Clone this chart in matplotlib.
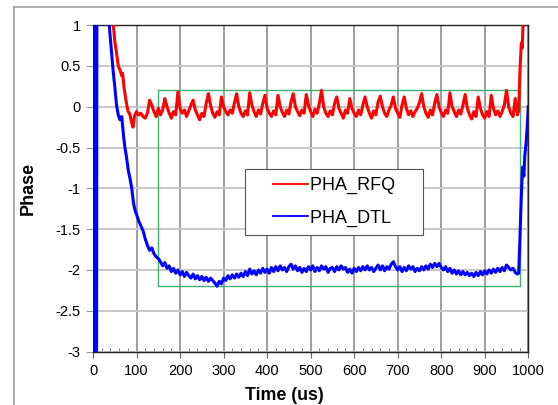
import numpy as np
import matplotlib
matplotlib.use("Agg")
import matplotlib.pyplot as plt
from matplotlib.lines import Line2D
from matplotlib.legend_handler import HandlerLine2D
from matplotlib.ticker import MultipleLocator, FormatStrFormatter

plt.rcParams['font.family'] = ['Liberation Sans', 'DejaVu Sans']
plt.rcParams['axes.unicode_minus'] = False

# PHA_RFQ
rfq_t_start = [0, 44, 47, 50, 54, 58, 62, 66, 68, 71, 75, 77, 80, 85, 88, 92, 95]
rfq_v_start = [1.5, 1.2, 0.98, 0.8, 0.66, 0.5, 0.45, 0.38, 0.41, 0.25, 0.1, 0.04,
               -0.05, -0.1, -0.18, -0.25, -0.12]
rfq_t_mid = list(range(100, 980, 5))
rfq_v_mid = [
    -0.06, -0.10, -0.08, -0.12, -0.14, -0.08, 0.08, 0.02, -0.06, -0.12,
    -0.02, -0.10, -0.04, 0.10, 0.00, -0.08, -0.14, -0.06, -0.10, 0.18,
    -0.02, -0.08, -0.04, -0.12, -0.05, 0.02, 0.08, -0.04, -0.10, -0.16,
    -0.08, -0.12, 0.04, 0.16, 0.02, -0.08, -0.13, -0.06, -0.10, 0.12,
    0.00, -0.06, -0.10, -0.04, -0.08, 0.05, 0.16, 0.00, -0.08, -0.12,
    -0.05, -0.10, 0.17, 0.02, -0.06, -0.12, -0.04, -0.09, 0.04, 0.14,
    -0.02, -0.08, -0.12, -0.05, -0.10, 0.14, 0.00, -0.07, -0.12, -0.04,
    -0.09, 0.06, 0.16, 0.00, -0.06, -0.11, -0.04, -0.08, 0.15, 0.02,
    -0.06, -0.12, -0.03, -0.08, 0.04, 0.20, 0.00, -0.08, -0.12, -0.05,
    -0.10, 0.04, 0.12, -0.02, -0.08, -0.14, -0.04, -0.08, 0.10, -0.02,
    -0.08, -0.12, -0.04, -0.10, 0.02, 0.12, 0.00, -0.08, -0.14, -0.05,
    -0.10, 0.06, 0.13, 0.00, -0.08, -0.12, -0.04, 0.02, 0.12, -0.02,
    -0.08, -0.13, 0.02, 0.12, -0.02, -0.10, -0.05, -0.12, -0.06, -0.02,
    0.05, 0.16, 0.00, -0.08, -0.13, -0.04, -0.10, 0.04, 0.15, 0.00,
    -0.07, -0.12, -0.04, -0.08, 0.17, 0.00, -0.06, -0.12, -0.04, -0.09,
    0.02, 0.15, -0.02, -0.10, -0.15, -0.06, -0.12, 0.12, -0.02, -0.10,
    -0.14, -0.06, -0.12, 0.14, -0.02, -0.10, -0.05, -0.12, -0.06, 0.02,
    0.20, 0.00, -0.08, -0.12, 0.10, -0.10,
]
rfq_t_end = [978, 981, 984, 986, 988, 992, 1000]
rfq_v_end = [-0.05, 0.45, 0.78, 0.72, 1.0, 1.3, 1.3]

# PHA_DTL
dtl_t_start = [0, 1, 2, 3, 4, 5, 6, 7, 8, 9, 10, 35, 38, 42, 46, 50, 54, 58, 62, 66,
               70, 73, 77, 81, 85, 89, 93, 97, 100, 105, 110, 115, 120, 125, 130,
               135, 140, 145]
dtl_v_start = [-4, 2, -4, 2, -4, 2, -4, 2, -4, 2, 2, 1.2, 0.95, 0.7, 0.45, 0.25,
               0.02, -0.1, -0.16, -0.12, -0.35, -0.49, -0.62, -0.78, -0.88, -1.0,
               -1.18, -1.28, -1.32, -1.4, -1.46, -1.52, -1.62, -1.7, -1.76, -1.73,
               -1.8, -1.84]
dtl_t_mid = list(range(150, 980, 5))
dtl_v_mid = [
    -1.86, -1.90, -1.95, -1.91, -1.98, -1.95, -2.02, -1.98, -2.04, -2.00,
    -2.06, -2.02, -2.08, -2.03, -2.07, -2.10, -2.05, -2.11, -2.07, -2.12,
    -2.08, -2.13, -2.09, -2.14, -2.10, -2.13, -2.16, -2.20, -2.14, -2.17,
    -2.10, -2.13, -2.07, -2.11, -2.06, -2.10, -2.05, -2.09, -2.04, -2.08,
    -2.02, -2.07, -1.99, -2.05, -2.01, -2.06, -2.00, -2.04, -1.98, -2.03,
    -1.99, -2.04, -1.97, -2.02, -1.96, -2.01, -1.95, -2.00, -1.97, -2.02,
    -1.96, -1.93, -1.99, -1.95, -2.01, -1.97, -2.03, -1.98, -2.02, -1.96,
    -2.00, -1.95, -2.02, -1.97, -2.01, -1.95, -1.99, -1.96, -2.03, -1.98,
    -1.97, -2.02, -1.96, -2.00, -1.95, -1.99, -1.97, -2.03, -1.99, -2.04,
    -1.98, -2.02, -1.97, -2.01, -1.96, -2.00, -1.95, -2.00, -1.97, -2.02,
    -1.98, -1.94, -2.00, -1.95, -2.01, -1.96, -1.99, -1.93, -1.90, -1.96,
    -2.00, -1.96, -2.02, -1.97, -2.01, -1.95, -1.99, -1.96, -2.02, -1.98,
    -2.01, -1.96, -2.00, -1.95, -1.99, -1.93, -1.97, -1.92, -1.96, -1.92,
    -1.97, -2.00, -1.96, -2.02, -1.98, -2.04, -2.00, -2.05, -2.01, -2.06,
    -2.02, -2.06, -2.03, -2.07, -2.04, -2.08, -2.03, -2.07, -2.02, -2.06,
    -2.01, -2.05, -2.00, -2.04, -1.99, -2.03, -1.98, -2.02, -1.97, -2.01,
    -1.94, -1.97, -2.00, -1.98, -2.03, -2.05,
]
dtl_t_end = [978, 981, 984, 987, 990, 992, 995, 998, 1000]
dtl_v_end = [-2.04, -1.6, -1.1, -0.74, -0.85, -0.6, -0.45, -0.2, 0.0]

# green window
win_t = [150, 980]
win_v = [-2.2, 0.2]

rfq_t = rfq_t_start + rfq_t_mid + rfq_t_end
rfq_v = rfq_v_start + rfq_v_mid + rfq_v_end
dtl_t = dtl_t_start + dtl_t_mid + dtl_t_end
dtl_v = dtl_v_start + dtl_v_mid + dtl_v_end

fig = plt.figure(figsize=(5.58, 4.05), dpi=100)
ax = fig.add_axes([0.1667, 0.132, 0.780, 0.806])

# outer chart frame (left/top edges visible)
fig.add_artist(Line2D([14/558, 1], [1 - 7/405, 1 - 7/405], color='#a0a0a0', lw=1.2))
fig.add_artist(Line2D([14/558, 14/558], [0, 1 - 7/405], color='#a0a0a0', lw=1.2))

ax.plot([win_t[0], win_t[1], win_t[1], win_t[0], win_t[0]],
        [win_v[1], win_v[1], win_v[0], win_v[0], win_v[1]],
        color='#3cb371', lw=1.0, zorder=2)
ax.plot(rfq_t, rfq_v, color='red', lw=2.2, zorder=3)
ax.plot(dtl_t, dtl_v, color='blue', lw=2.2, zorder=3)

ax.set_xlim(0, 1000)
ax.set_ylim(-3, 1)
ax.xaxis.set_major_locator(MultipleLocator(100))
ax.xaxis.set_minor_locator(MultipleLocator(20))
ax.yaxis.set_major_locator(MultipleLocator(0.5))
ax.yaxis.set_major_formatter(FormatStrFormatter('%g'))

ax.grid(axis='x', which='major', color='#8c8c8c', lw=1.2)
ax.grid(axis='y', which='major', color='#c8c8c8', lw=1.4)
ax.set_axisbelow(True)

for s in ['top', 'right', 'bottom']:
    ax.spines[s].set_color('#222222')
    ax.spines[s].set_linewidth(1.0)
ax.spines['left'].set_color('#888888')

ax.tick_params(axis='x', which='major', direction='out', length=4, color='#666666',
               labelsize=10.5, pad=5)
ax.tick_params(axis='x', which='minor', direction='in', length=3, color='#666666')
ax.tick_params(axis='y', which='major', direction='out', length=5, color='#999999',
               labelsize=10.5, pad=4)

ax.set_xlabel('Time (us)', fontsize=12.8, fontweight='bold')
ax.xaxis.set_label_coords(0.4386, -0.108)
ax.set_ylabel('Phase', fontsize=13, fontweight='bold')
ax.yaxis.set_label_coords(-0.13, 0.5)

handles = [Line2D([], [], color='red', lw=1.3), Line2D([], [], color='blue', lw=1.3)]
leg = ax.legend(handles, ['PHA_RFQ    ', 'PHA_DTL    '], loc='upper left',
                bbox_to_anchor=(0.349, 0.559), borderaxespad=0,
                fancybox=False, fontsize=13, handlelength=3.05, handletextpad=0.1,
                labelspacing=0.85, borderpad=0.45, framealpha=1,
                handler_map={Line2D: HandlerLine2D(xpad=1.1)})
leg.get_frame().set_edgecolor('#555555')
leg.get_frame().set_linewidth(0.8)

fig.savefig('out.png', dpi=100)
